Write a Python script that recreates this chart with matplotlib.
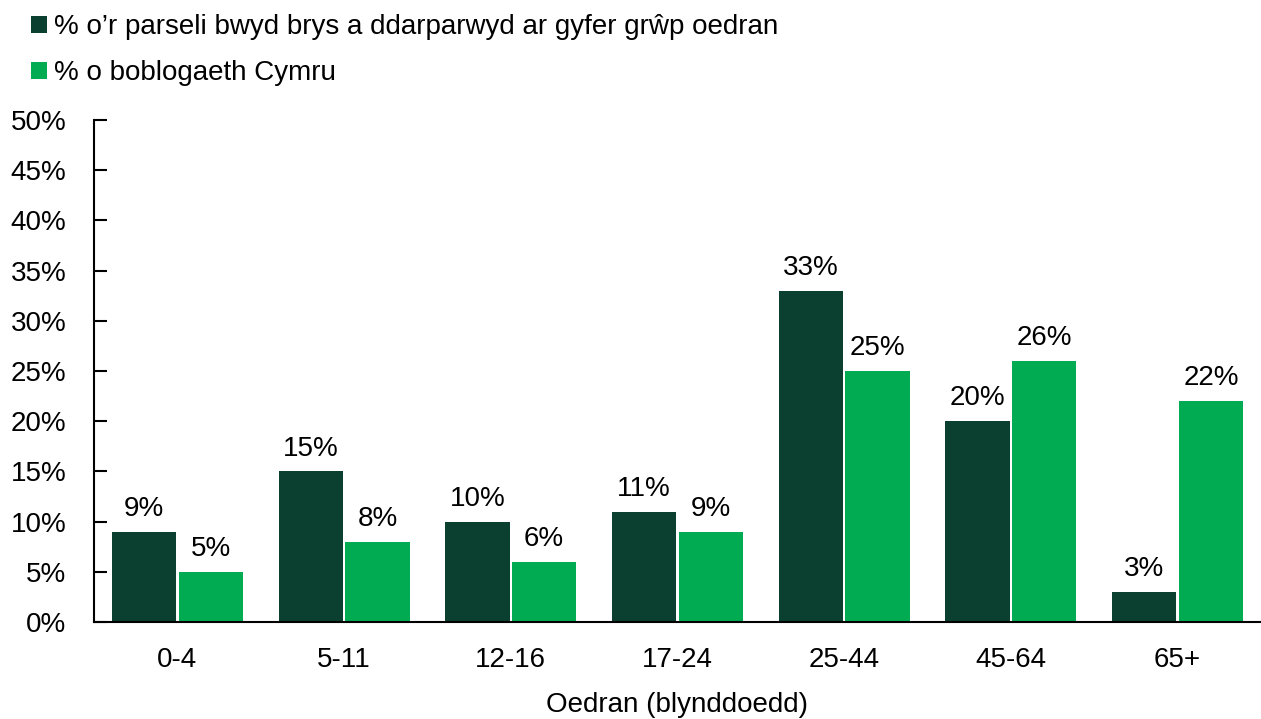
import matplotlib
matplotlib.use("Agg")
import matplotlib.pyplot as plt
import numpy as np
from matplotlib.ticker import FuncFormatter

categories = ["0-4", "5-11", "12-16", "17-24", "25-44", "45-64", "65+"]
parcels = [9, 15, 10, 11, 33, 20, 3]
population = [5, 8, 6, 9, 25, 26, 22]
series_names = ["% o\u2019r parseli bwyd brys a ddarparwyd ar gyfer grŵp oedran",
                "% o boblogaeth Cymru"]
yticks = [0, 5, 10, 15, 20, 25, 30, 35, 40, 45, 50]

plt.rcParams['font.family'] = ['Liberation Sans', 'DejaVu Sans']
fs = 20
dark = "#0b3f30"
green = "#00ab52"

fig = plt.figure(figsize=(12.61, 7.19), dpi=100)
ax = fig.add_axes([94/1261, 1 - 622/719, 1 - 94/1261, (622 - 120)/719])

x = np.arange(len(categories))
w = 0.385
off = 0.2
b1 = ax.bar(x - off, parcels, width=w, color=dark, label=series_names[0])
b2 = ax.bar(x + off, population, width=w, color=green, label=series_names[1])

for bars, vals in ((b1, parcels), (b2, population)):
    for r, v in zip(bars, vals):
        ax.annotate(f"{v}%", (r.get_x() + r.get_width()/2, v),
                    xytext=(0, 7), textcoords="offset points",
                    ha="center", va="bottom", fontsize=fs)

ax.set_xlim(-0.5, len(categories) - 0.5)
ax.set_ylim(0, 50)
ax.set_yticks(yticks)
ax.yaxis.set_major_formatter(FuncFormatter(lambda v, p: f"{int(v)}%"))
ax.set_xticks(x)
ax.set_xticklabels(categories)
ax.tick_params(axis="y", direction="in", length=9, width=1.5, pad=20, labelsize=fs)
ax.tick_params(axis="x", length=0, pad=18, labelsize=fs)
for s in ("top", "right"):
    ax.spines[s].set_visible(False)
for s in ("left", "bottom"):
    ax.spines[s].set_linewidth(1.5)
ax.set_xlabel("Oedran (blynddoedd)", fontsize=fs, labelpad=14)

fig.legend(handles=[b1, b2], labels=series_names, loc="upper left",
           bbox_to_anchor=(0.009, 1.007), frameon=False, fontsize=fs,
           handlelength=0.6, handleheight=0.6, handletextpad=0.22,
           labelspacing=0.72, borderaxespad=0.3)

fig.savefig("out.png", dpi=100)
